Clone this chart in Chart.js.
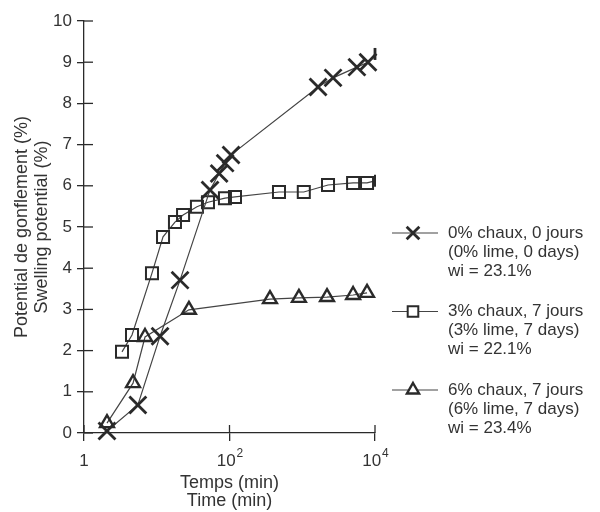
<!DOCTYPE html>
<html>
<head>
<meta charset="utf-8">
<script src="https://cdn.jsdelivr.net/npm/chart.js@4.4.0/dist/chart.umd.min.js"></script>
<style>
    html, body { margin: 0; padding: 0; background: #fff; }
    #wrap { width: 600px; height: 512px; }
</style>
</head>
<body>
<div id="wrap"><canvas id="chart" width="600" height="512"></canvas></div>
<script>
// --- DATA ---

// 0% lime, 0 days
const timeLime0 = [2.07, 5.5, 11.1, 20.9, 54, 72, 87, 105, 1650, 2650, 5640, 8000, 10000];
const swellLime0 = [0.05, 0.68, 2.35, 3.71, 5.9, 6.3, 6.55, 6.75, 8.4, 8.62, 8.88, 9.0, 9.2];

// 3% lime, 7 days
const timeLime3 = [3.33, 4.57, 8.6, 12.2, 17.8, 23, 35.7, 50.6, 86.6, 119, 479, 1050, 2260, 5000, 7770, 10000];
const swellLime3 = [1.97, 2.38, 3.88, 4.76, 5.12, 5.29, 5.49, 5.6, 5.7, 5.73, 5.85, 5.85, 6.02, 6.07, 6.07, 6.12];

// 6% lime, 7 days
const timeLime6 = [2.07, 4.72, 6.9, 27.7, 360, 900, 2190, 5000, 7770];
const swellLime6 = [0.24, 1.21, 2.33, 2.99, 3.25, 3.28, 3.3, 3.35, 3.4];

const xTickValues = [1, 100, 10000];
const xTickBase = ['1', '10', '10'];
const xTickExp = ['', '2', '4'];
const yTitle = ['Potential de gonflement (%)', 'Swelling potential (%)'];
const xTitle = ['Temps (min)', 'Time (min)'];

const legendLines = [
    ['0% chaux, 0 jours', '(0% lime, 0 days)', 'wi = 23.1%'],
    ['3% chaux, 7 jours', '(3% lime, 7 days)', 'wi = 22.1%'],
    ['6% chaux, 7 jours', '(6% lime, 7 days)', 'wi = 23.4%']
];

const FONT = '"Liberation Sans", Arial, Helvetica, sans-serif';
const INK = '#2a2a2a';

const toPoints = (xs, ys) => xs.map((x, i) => ({ x: x, y: ys[i] }));

// last point of a series is only an end stroke
const isEnd = (ctx) => ctx.dataset.endMark && ctx.dataIndex === ctx.dataset.data.length - 1;
const endStyle = (style) => (ctx) => isEnd(ctx) ? 'line' : style;
const endRadius = (r) => (ctx) => isEnd(ctx) ? 6 : r;
const endRotation = (ctx) => isEnd(ctx) ? 90 : 0;

const markerStyles = [
    { pointStyle: 'crossRot', radius: 12, width: 2.8, legendRadius: 9 },
    { pointStyle: 'rect', radius: 8.5, width: 2, legendRadius: 7.5 },
    { pointStyle: 'triangle', radius: 8, width: 2.4, legendRadius: 7 }
];

const makeDataset = (points, i, endMark) => ({
    data: points,
    endMark: endMark,
    borderColor: '#444',
    borderWidth: 1.2,
    tension: 0,
    fill: false,
    clip: false,
    pointStyle: endStyle(markerStyles[i].pointStyle),
    pointRotation: endRotation,
    pointRadius: endRadius(markerStyles[i].radius),
    pointBorderWidth: markerStyles[i].width,
    pointBorderColor: INK,
    pointBackgroundColor: 'rgba(0,0,0,0)',
    pointHoverRadius: markerStyles[i].radius
});

// --- PLUGINS ---

// ticks that cross the axis line, plus the x labels with exponents
const axisExtras = {
    id: 'axisExtras',
    afterDraw(chart) {
        const { ctx, chartArea } = chart;
        const xs = chart.scales.x;
        const ys = chart.scales.y;
        ctx.save();
        ctx.strokeStyle = INK;
        ctx.lineWidth = 1.3;
        ys.ticks.forEach(t => {
            const y = ys.getPixelForValue(t.value);
            ctx.beginPath();
            ctx.moveTo(chartArea.left, y);
            ctx.lineTo(chartArea.left + 9, y);
            ctx.stroke();
        });
        xTickValues.forEach(v => {
            const x = xs.getPixelForValue(v);
            ctx.beginPath();
            ctx.moveTo(x, chartArea.bottom);
            ctx.lineTo(x, chartArea.bottom - 8);
            ctx.stroke();
        });

        ctx.fillStyle = '#333';
        ctx.textBaseline = 'middle';
        xTickValues.forEach((v, i) => {
            const x = xs.getPixelForValue(v);
            const y = chartArea.bottom + 28;
            ctx.font = '17px ' + FONT;
            const wBase = ctx.measureText(xTickBase[i]).width;
            ctx.font = '12px ' + FONT;
            const wExp = xTickExp[i] ? ctx.measureText(xTickExp[i]).width : 0;
            const start = x - (wBase + wExp) / 2;
            ctx.textAlign = 'left';
            ctx.font = '17px ' + FONT;
            ctx.fillText(xTickBase[i], start, y);
            if (xTickExp[i]) {
                ctx.font = '12px ' + FONT;
                ctx.fillText(xTickExp[i], start + wBase + 1, y - 7);
            }
        });
        ctx.restore();
    }
};

// legend on the right with marker samples
const sideLegend = {
    id: 'sideLegend',
    afterDraw(chart) {
        const ctx = chart.ctx;
        const top = 233, entryGap = 78.5, lineGap = 19;
        ctx.save();
        legendLines.forEach((lines, i) => {
            const y = top + i * entryGap;
            ctx.strokeStyle = '#444';
            ctx.lineWidth = 1.2;
            ctx.beginPath();
            ctx.moveTo(392, y);
            ctx.lineTo(438, y);
            ctx.stroke();

            const m = markerStyles[i];
            ctx.strokeStyle = INK;
            ctx.fillStyle = '#fff';
            ctx.lineWidth = m.width;
            Chart.helpers.drawPoint(ctx, { pointStyle: m.pointStyle, rotation: 0, radius: m.legendRadius, borderWidth: m.width }, 413, y);

            ctx.fillStyle = '#333';
            ctx.font = '17px ' + FONT;
            ctx.textAlign = 'left';
            ctx.textBaseline = 'middle';
            lines.forEach((t, j) => ctx.fillText(t, 448, y + j * lineGap));
        });
        ctx.restore();
    }
};

// --- CHART ---

Chart.defaults.font.family = FONT;
Chart.defaults.color = '#333';

new Chart(document.getElementById('chart'), {
    type: 'line',
    data: {
        datasets: [
            makeDataset(toPoints(timeLime0, swellLime0), 0, true),
            makeDataset(toPoints(timeLime3, swellLime3), 1, true),
            makeDataset(toPoints(timeLime6, swellLime6), 2, false)
        ]
    },
    options: {
        responsive: false,
        devicePixelRatio: 1,
        animation: false,
        layout: { padding: { top: 21, right: 225, left: 0, bottom: 0 } },
        plugins: {
            legend: { display: false },
            tooltip: { enabled: false }
        },
        scales: {
            x: {
                type: 'logarithmic',
                min: 1,
                max: 10000,
                afterBuildTicks: (scale) => { scale.ticks = xTickValues.map(v => ({ value: v })); },
                afterFit: (scale) => { scale.height = 79; },
                ticks: { display: false },
                grid: { drawOnChartArea: false, tickLength: 8, color: INK, lineWidth: 1.3 },
                border: { display: true, color: INK, width: 1.3 },
                title: {
                    display: true,
                    text: xTitle,
                    font: { size: 18, lineHeight: 1.0 },
                    color: '#333',
                    padding: { top: 0, bottom: 2 }
                }
            },
            y: {
                min: 0,
                max: 10,
                afterFit: (scale) => { scale.width = 84; },
                ticks: { stepSize: 1, font: { size: 17 }, color: '#333', padding: 5 },
                grid: { drawOnChartArea: false, tickLength: 7, color: INK, lineWidth: 1.3 },
                border: { display: true, color: INK, width: 1.3 },
                title: {
                    display: true,
                    text: yTitle,
                    font: { size: 18, lineHeight: 1.11 },
                    color: '#333',
                    padding: { top: 12, bottom: 0 }
                }
            }
        }
    },
    plugins: [axisExtras, sideLegend]
});
</script>
</body>
</html>
